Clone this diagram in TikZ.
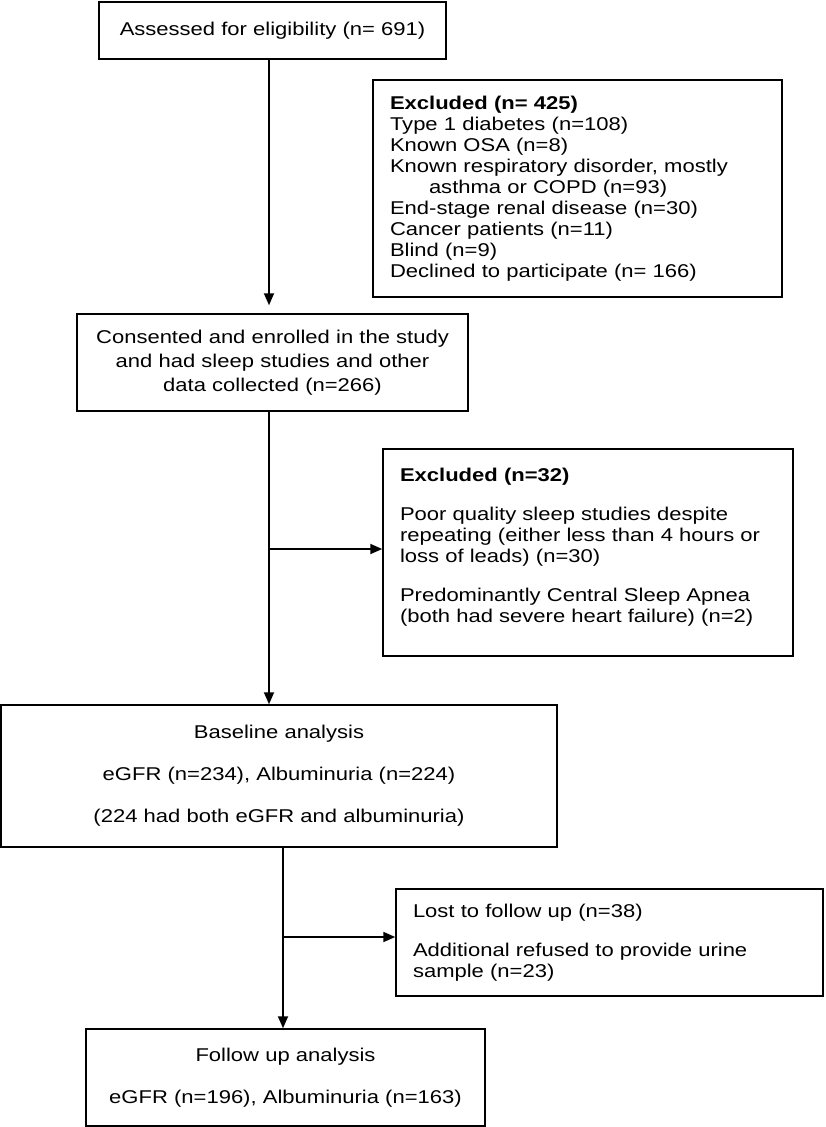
\documentclass[tikz,border=0pt]{standalone}
\usepackage{fontspec}
\setmainfont{Liberation Sans}[FakeStretch=1.19]
\usetikzlibrary{arrows.meta}
\begin{document}
\begin{tikzpicture}[x=1pt,y=-1pt,
  box/.style={draw=black, line width=1.5pt, inner xsep=17pt, inner ysep=0pt,
    font=\fontsize{18.5pt}{21pt}\selectfont},
  arr/.style={line width=1.8pt, -{Triangle[length=12pt,width=10pt]}},
  ln/.style={line width=1.8pt}]
\useasboundingbox (0,0) rectangle (825,1127);
\node[box, text width=313pt, align=center, minimum height=57pt] (assess) at (272.5,30.5)
  {Assessed for eligibility (n= 691)};
\node[box, text width=375pt, align=left, minimum height=217pt] (ex1) at (577.5,188.5)
  {\textbf{Excluded (n= 425)}\\ Type 1 diabetes (n=108)\\ Known OSA (n=8)\\
   Known respiratory disorder, mostly\\ \hspace*{39pt}asthma or COPD (n=93)\\
   End-stage renal disease (n=30)\\ Cancer patients (n=11)\\ Blind (n=9)\\
   Declined to participate (n= 166)};
\node[box, text width=357pt, align=center, minimum height=97pt] (cons) at (272.5,362.5)
  {Consented and enrolled in the study\\[3pt] and had sleep studies and other\\[3pt] data collected (n=266)};
\node[box, text width=376pt, align=left, minimum height=207pt] (ex2) at (588,552.5)
  {\textbf{Excluded (n=32)}\\[18pt] Poor quality sleep studies despite\\
   repeating (either less than 4 hours or\\ loss of leads) (n=30)\\[18pt]
   Predominantly Central Sleep Apnea\\ (both had severe heart failure) (n=2)\rule[-14pt]{0pt}{14pt}};
\node[box, text width=522pt, align=center, minimum height=142pt] (base) at (279,776)
  {Baseline analysis\\[21pt] eGFR (n=234), Albuminuria (n=224)\\[21pt] (224 had both eGFR and albuminuria)};
\node[box, text width=393pt, align=left, minimum height=107pt] (lost) at (609.5,942.5)
  {Lost to follow up (n=38)\\[18pt] Additional refused to provide urine\\ sample (n=23)};
\node[box, text width=365pt, align=center, minimum height=97pt] (foll) at (285.5,1077.5)
  {Follow up analysis\\[21pt] eGFR (n=196), Albuminuria (n=163)};
\coordinate (c1) at (269,0);
\coordinate (c2) at (283,0);
\coordinate (b1) at (269,549);
\coordinate (b2) at (283,937);
\draw[arr, shorten >=8pt] (assess.south -| c1) -- (cons.north -| c1);
\draw[arr] (cons.south -| c1) -- (base.north -| c1);
\draw[arr] (b1) -- (b1 -| ex2.west);
\draw[arr] (base.south -| c2) -- (foll.north -| c2);
\draw[arr] (b2) -- (b2 -| lost.west);
\end{tikzpicture}
\end{document}
